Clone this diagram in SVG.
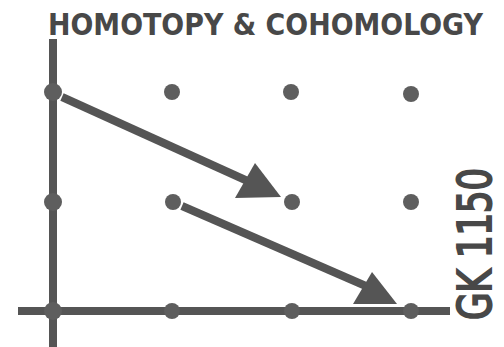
<svg xmlns="http://www.w3.org/2000/svg" width="504" height="347" viewBox="0 0 504 347">
<style>
.ax{stroke:#555;stroke-width:8;fill:none}
.ar{stroke:#555;stroke-width:8;fill:none}
.hd{fill:#555}
.dot{fill:#5e5e5e}
.t{font-family:"DejaVu Sans Condensed","DejaVu Sans","Liberation Sans",sans-serif;font-weight:bold;fill:#484848}
.v{font-family:"DejaVu Sans Condensed","DejaVu Sans","Liberation Sans",sans-serif;font-weight:normal;fill:#484848;stroke:#484848;stroke-width:2}
</style>
<rect width="504" height="347" fill="#fff"/>
<text class="t" x="48" y="35" font-size="30" textLength="435" lengthAdjust="spacingAndGlyphs">HOMOTOPY &amp; COHOMOLOGY</text>
<text class="v" transform="translate(491,320) rotate(-90)" x="0" y="0" font-size="46" textLength="152" lengthAdjust="spacingAndGlyphs">GK 1150</text>
<g id="connectors">
<line class="ax" x1="53" y1="39" x2="53" y2="347"/>
<line class="ax" x1="18" y1="311" x2="450" y2="311"/>
<line class="ar" x1="62" y1="97" x2="252" y2="183"/>
<polygon class="hd" points="255,163 235,198 281,197"/>
<line class="ar" x1="182" y1="206" x2="375" y2="290"/>
<polygon class="hd" points="372,272 353,304 397,304"/>
</g>
<g id="n00"><circle class="dot" cx="53" cy="92" r="9"/></g>
<g id="n10"><circle class="dot" cx="172" cy="92" r="8"/></g>
<g id="n20"><circle class="dot" cx="291" cy="92" r="8"/></g>
<g id="n30"><circle class="dot" cx="411" cy="94" r="8"/></g>
<g id="n01"><circle class="dot" cx="53" cy="202" r="9"/></g>
<g id="n11"><circle class="dot" cx="173" cy="202" r="8"/></g>
<g id="n21"><circle class="dot" cx="292" cy="202" r="8"/></g>
<g id="n31"><circle class="dot" cx="411" cy="202" r="8"/></g>
<g id="n02"><circle class="dot" cx="53" cy="311" r="9"/></g>
<g id="n12"><circle class="dot" cx="172" cy="311" r="8"/></g>
<g id="n22"><circle class="dot" cx="292" cy="311" r="8"/></g>
<g id="n32"><circle class="dot" cx="411" cy="311" r="8"/></g>
</svg>
